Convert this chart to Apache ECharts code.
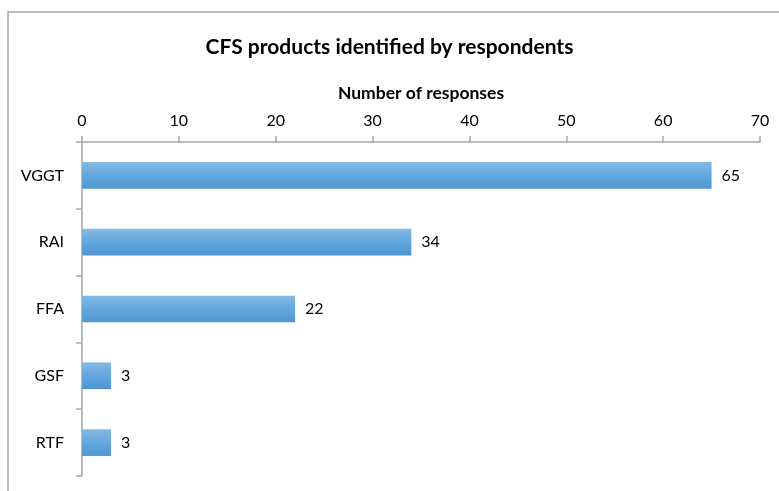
<!DOCTYPE html>
<html><head><meta charset="utf-8">
<script src="https://cdn.jsdelivr.net/npm/echarts@6/dist/echarts.min.js"></script>
<style>html,body{margin:0;padding:0;background:#fff}#c{width:779px;height:491px}</style>
</head><body><div id="c"></div>
<script>
const categories = ['VGGT', 'RAI', 'FFA', 'GSF', 'RTF'];
const responses = [65, 34, 22, 3, 3];
const xTicks = [0, 10, 20, 30, 40, 50, 60, 70];

const chart = echarts.init(document.getElementById('c'));
const font = 'Lato, "Open Sans", sans-serif';
chart.setOption({
  animation: false,
  textStyle: { fontFamily: font },
  title: {
    text: 'CFS products identified by respondents',
    left: 'center', top: 32,
    textStyle: { fontSize: 21, fontWeight: 'bold', color: '#000', fontFamily: font }
  },
  graphic: [{
    type: 'rect', shape: { x: 8, y: 12, width: 800, height: 500 },
    style: { fill: 'none', stroke: '#a6a6a6', lineWidth: 1.5 }, z: -1
  }],
  grid: { left: 82, right: 19, top: 142, bottom: 15 },
  xAxis: {
    type: 'value', position: 'top', min: 0, max: 70, interval: 10,
    name: 'Number of responses', nameLocation: 'middle', nameGap: 40,
    nameTextStyle: { fontSize: 17.5, fontWeight: 'bold', color: '#000', fontFamily: font },
    axisLine: { show: true, lineStyle: { color: '#a6a6a6', width: 1.5 } },
    axisTick: { show: true, inside: false, length: 6, lineStyle: { color: '#a6a6a6', width: 1.5 } },
    axisLabel: { fontSize: 16, color: '#000', margin: 13, fontFamily: font,
      formatter: v => xTicks.includes(v) ? String(v) : '' },
    splitLine: { show: false }
  },
  yAxis: {
    type: 'category', data: categories, inverse: true,
    axisLine: { show: true, lineStyle: { color: '#a6a6a6', width: 1.5 } },
    axisTick: { show: true, length: 6, lineStyle: { color: '#a6a6a6', width: 1.5 } },
    axisLabel: { fontSize: 16, color: '#000', margin: 18, fontFamily: font }
  },
  series: [{
    type: 'bar', data: responses, barWidth: '40%',
    itemStyle: {
      color: new echarts.graphic.LinearGradient(0, 0, 0, 1, [
        { offset: 0, color: '#86b9e4' },
        { offset: 0.5, color: '#62a7de' },
        { offset: 1, color: '#4f96d2' }
      ])
    },
    label: { show: true, position: 'right', distance: 10, fontSize: 16, color: '#000', fontFamily: font }
  }]
});
</script></body></html>
